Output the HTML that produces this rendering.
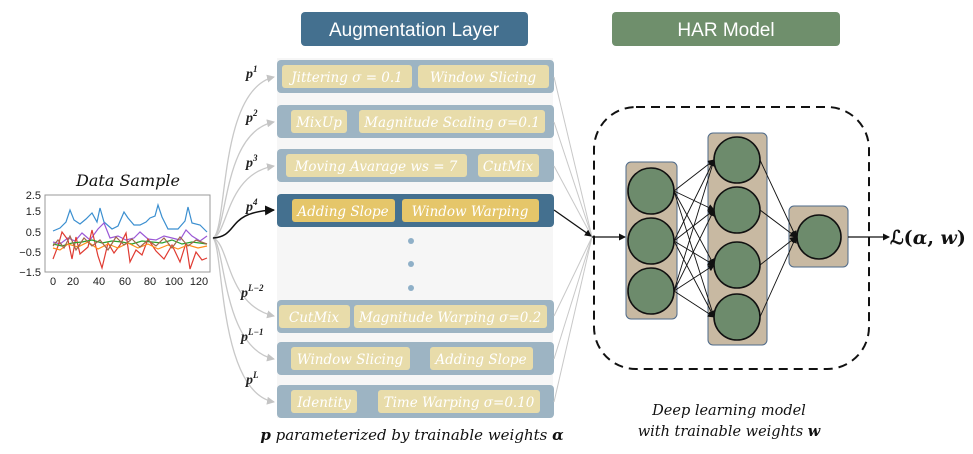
<!DOCTYPE html>
<html><head><meta charset="utf-8"><style>
body{margin:0;background:#fff;}
svg{display:block;}
.ch{font-family:"DejaVu Serif","Liberation Serif",serif;font-style:italic;fill:#fff;font-size:13.5px;}
.lab{font-family:"Liberation Serif",serif;font-style:italic;font-weight:bold;fill:#222;font-size:14px;}
.ax{font-family:"Liberation Sans",sans-serif;font-size:11px;fill:#222;}
</style></head><body>
<svg width="973" height="454" viewBox="0 0 973 454" xmlns="http://www.w3.org/2000/svg">
<defs>
<marker id="ga" markerWidth="8" markerHeight="8" refX="7" refY="4" orient="auto" markerUnits="userSpaceOnUse"><path d="M0,0 L8,4 L0,8 Z" fill="#c4c4c4"/></marker>
<marker id="ba" markerWidth="10" markerHeight="10" refX="9" refY="5" orient="auto" markerUnits="userSpaceOnUse"><path d="M0,0 L10,5 L0,10 Z" fill="#111"/></marker>
<marker id="sa" markerWidth="7" markerHeight="7" refX="6" refY="3.5" orient="auto" markerUnits="userSpaceOnUse"><path d="M0,0 L7,3.5 L0,7 Z" fill="#111"/></marker>
</defs>

<rect x="301" y="12" width="227" height="34" rx="4" fill="#44708f"/>
<text x="414" y="36" text-anchor="middle" font-family="Liberation Sans,sans-serif" font-size="19" fill="#fff">Augmentation Layer</text>
<rect x="612" y="12" width="228" height="34" rx="4" fill="#6f8f6c"/>
<text x="726" y="36" text-anchor="middle" font-family="Liberation Sans,sans-serif" font-size="19" fill="#fff">HAR Model</text>

<text x="128" y="186" text-anchor="middle" font-family="DejaVu Serif,serif" font-style="italic" font-size="16" fill="#111">Data Sample</text>
<rect x="45" y="195" width="165" height="77" fill="#fff" stroke="#999" stroke-width="1"/>
<g class="ax" text-anchor="end">
<text x="41" y="199">2.5</text><text x="41" y="215">1.5</text><text x="41" y="236">0.5</text><text x="41" y="256">−0.5</text><text x="41" y="276">−1.5</text>
</g>
<g class="ax" text-anchor="middle">
<text x="53" y="285">0</text><text x="73" y="285">20</text><text x="99" y="285">40</text><text x="125" y="285">60</text><text x="150" y="285">80</text><text x="174" y="285">100</text><text x="199" y="285">120</text>
</g>
<g fill="none" stroke-width="1.2">
<polyline stroke="#3b8fd0" points="53,231 60,228 66,222 70,210 74,220 80,224 86,219 92,213 97,222 100,208 104,222 112,229 118,226 124,212 128,218 134,225 140,225 146,222 150,218 155,216 158,205 162,217 168,229 178,229 185,221 188,207 192,223 200,225 207,232"/>
<polyline stroke="#9b59d6" points="53,242 60,244 68,238 75,241 82,233 90,240 98,229 104,223 110,238 118,236 126,240 134,238 140,232 148,239 156,240 164,236 172,238 180,240 186,230 192,236 200,241 207,236"/>
<polyline stroke="#e03b32" points="53,259 58,246 62,232 68,240 72,259 76,237 80,254 88,247 92,230 98,256 102,268 108,243 114,253 120,245 126,233 130,262 136,250 142,255 148,239 156,251 164,259 172,245 180,262 186,243 190,269 196,252 202,260 207,258"/>
<polyline stroke="#2ca02c" points="53,244 62,246 72,243 82,242 92,240 102,243 112,241 122,242 132,244 142,241 152,242 162,243 172,240 182,244 192,242 207,244"/>
<polyline stroke="#ff8c1a" points="53,248 60,250 68,244 78,247 88,242 98,249 108,244 118,248 128,243 138,248 148,244 158,249 168,245 178,249 188,245 198,248 207,246"/>
<polyline stroke="#a0664a" points="53,246 58,240 64,248 70,236 76,250 84,238 92,246 100,240 108,250 116,237 124,245 132,239 140,247 148,240 156,246 164,238 172,248 180,237 188,246 196,240 207,244"/>
</g>

<rect x="277" y="58" width="276" height="360" fill="#f6f6f6"/>
<g fill="#9db4c3">
<rect x="277" y="60" width="277" height="33" rx="4"/>
<rect x="277" y="105" width="277" height="33" rx="4"/>
<rect x="277" y="149" width="277" height="33" rx="4"/>
<rect x="277" y="300" width="277" height="33" rx="4"/>
<rect x="277" y="342" width="277" height="33" rx="4"/>
<rect x="277" y="385" width="277" height="33" rx="4"/>
</g>
<rect x="277" y="194" width="277" height="33" rx="4" fill="#44708f"/>
<g fill="#e8dcaa">
<rect x="282" y="65" width="130" height="23" rx="3"/><rect x="418" y="65" width="131" height="23" rx="3"/>
<rect x="291" y="110" width="56" height="23" rx="3"/><rect x="359" y="110" width="186" height="23" rx="3"/>
<rect x="286" y="154" width="181" height="23" rx="3"/><rect x="478" y="154" width="61" height="23" rx="3"/>
<rect x="279" y="305" width="71" height="23" rx="3"/><rect x="354" y="305" width="193" height="23" rx="3"/>
<rect x="291" y="347" width="119" height="23" rx="3"/><rect x="430" y="347" width="103" height="23" rx="3"/>
<rect x="291" y="390" width="66" height="23" rx="3"/><rect x="378" y="390" width="162" height="23" rx="3"/>
</g>
<g fill="#e5c66a">
<rect x="292" y="199" width="103" height="23" rx="3"/><rect x="402" y="199" width="137" height="23" rx="3"/>
</g>
<g class="ch" text-anchor="middle">
<text x="347" y="82">Jittering σ = 0.1</text><text x="483" y="82">Window Slicing</text>
<text x="319" y="127">MixUp</text><text x="452" y="127">Magnitude Scaling σ=0.1</text>
<text x="376" y="171">Moving Avarage ws = 7</text><text x="508" y="171">CutMix</text>
<text x="343" y="216">Adding Slope</text><text x="470" y="216">Window Warping</text>
<text x="314" y="322">CutMix</text><text x="450" y="322">Magnitude Warping σ=0.2</text>
<text x="350" y="364">Window Slicing</text><text x="481" y="364">Adding Slope</text>
<text x="324" y="407">Identity</text><text x="459" y="407">Time Warping σ=0.10</text>
</g>
<g fill="#8fb0c8"><circle cx="411" cy="241" r="3"/><circle cx="411" cy="264" r="3"/><circle cx="411" cy="288" r="3"/></g>

<g fill="none" stroke="#c8c8c8" stroke-width="1.3" marker-end="url(#ga)">
<path d="M213,238 C228,230 218,90 274,77"/>
<path d="M213,238 C228,232 222,132 274,122"/>
<path d="M213,238 C228,234 226,174 274,166"/>
<path d="M213,238 C230,244 226,305 274,316"/>
<path d="M213,238 C226,246 222,348 274,359"/>
<path d="M213,238 C224,248 218,392 274,402"/>
</g>
<path d="M213,238 C240,236 225,212 274,210" fill="none" stroke="#111" stroke-width="1.5" marker-end="url(#ba)"/>
<g class="lab">
<text x="246" y="78">p<tspan font-size="9" dy="-6">1</tspan></text>
<text x="246" y="122">p<tspan font-size="9" dy="-6">2</tspan></text>
<text x="246" y="167">p<tspan font-size="9" dy="-6">3</tspan></text>
<text x="246" y="211">p<tspan font-size="9" dy="-6">4</tspan></text>
<text x="241" y="297">p<tspan font-size="9" dy="-6">L−2</tspan></text>
<text x="241" y="341">p<tspan font-size="9" dy="-6">L−1</tspan></text>
<text x="246" y="384">p<tspan font-size="9" dy="-6">L</tspan></text>
</g>

<g stroke="#c8c8c8" stroke-width="1">
<line x1="554" y1="77" x2="592" y2="237"/><line x1="554" y1="122" x2="592" y2="237"/><line x1="554" y1="166" x2="592" y2="237"/>
<line x1="554" y1="316" x2="592" y2="237"/><line x1="554" y1="359" x2="592" y2="237"/><line x1="554" y1="402" x2="592" y2="237"/>
</g>
<line x1="554" y1="210" x2="591" y2="236" stroke="#111" stroke-width="1.3" marker-end="url(#sa)"/>

<rect x="594" y="107" width="275" height="262" rx="42" fill="none" stroke="#111" stroke-width="2" stroke-dasharray="9,6"/>
<line x1="592" y1="237" x2="625" y2="237" stroke="#111" stroke-width="1.3" marker-end="url(#sa)"/>
<rect x="626" y="162" width="51" height="157" rx="5" fill="#c8b9a2" stroke="#4e6a8a" stroke-width="1"/>
<rect x="708" y="133" width="59" height="212" rx="5" fill="#c8b9a2" stroke="#4e6a8a" stroke-width="1"/>
<rect x="789" y="206" width="59" height="61" rx="5" fill="#c8b9a2" stroke="#4e6a8a" stroke-width="1"/>
<g stroke="#111" stroke-width="0.9" marker-end="url(#sa)">
<line x1="674" y1="191" x2="714" y2="160"/><line x1="674" y1="191" x2="714" y2="210"/><line x1="674" y1="191" x2="714" y2="265"/><line x1="674" y1="191" x2="714" y2="317"/>
<line x1="674" y1="241" x2="714" y2="160"/><line x1="674" y1="241" x2="714" y2="210"/><line x1="674" y1="241" x2="714" y2="265"/><line x1="674" y1="241" x2="714" y2="317"/>
<line x1="674" y1="291" x2="714" y2="160"/><line x1="674" y1="291" x2="714" y2="210"/><line x1="674" y1="291" x2="714" y2="265"/><line x1="674" y1="291" x2="714" y2="317"/>
<line x1="760" y1="160" x2="796" y2="237"/><line x1="760" y1="210" x2="796" y2="237"/><line x1="760" y1="265" x2="796" y2="237"/><line x1="760" y1="317" x2="796" y2="237"/>
</g>
<g fill="#6d8b6c" stroke="#111" stroke-width="1.6">
<circle cx="651" cy="191" r="23"/><circle cx="651" cy="241" r="23"/><circle cx="651" cy="291" r="23"/>
<circle cx="737" cy="160" r="23"/><circle cx="737" cy="210" r="23"/><circle cx="737" cy="265" r="23"/><circle cx="737" cy="317" r="23"/>
<circle cx="819" cy="237" r="22"/>
</g>
<line x1="848" y1="237" x2="889" y2="237" stroke="#111" stroke-width="1.3" marker-end="url(#sa)"/>
<text x="890" y="244" font-family="DejaVu Serif,serif" font-weight="bold" font-size="19" fill="#111">ℒ(<tspan font-style="italic">α</tspan>, <tspan font-style="italic">w</tspan>)</text>

<text x="412" y="440" text-anchor="middle" font-family="DejaVu Serif,serif" font-style="italic" font-size="15" fill="#111"><tspan font-weight="bold">p</tspan> parameterized by trainable weights <tspan font-weight="bold">α</tspan></text>
<text x="729" y="415" text-anchor="middle" font-family="DejaVu Serif,serif" font-style="italic" font-size="14.5" fill="#111">Deep learning model</text>
<text x="729" y="436" text-anchor="middle" font-family="DejaVu Serif,serif" font-style="italic" font-size="14.5" fill="#111">with trainable weights <tspan font-weight="bold">w</tspan></text>
</svg>
</body></html>
